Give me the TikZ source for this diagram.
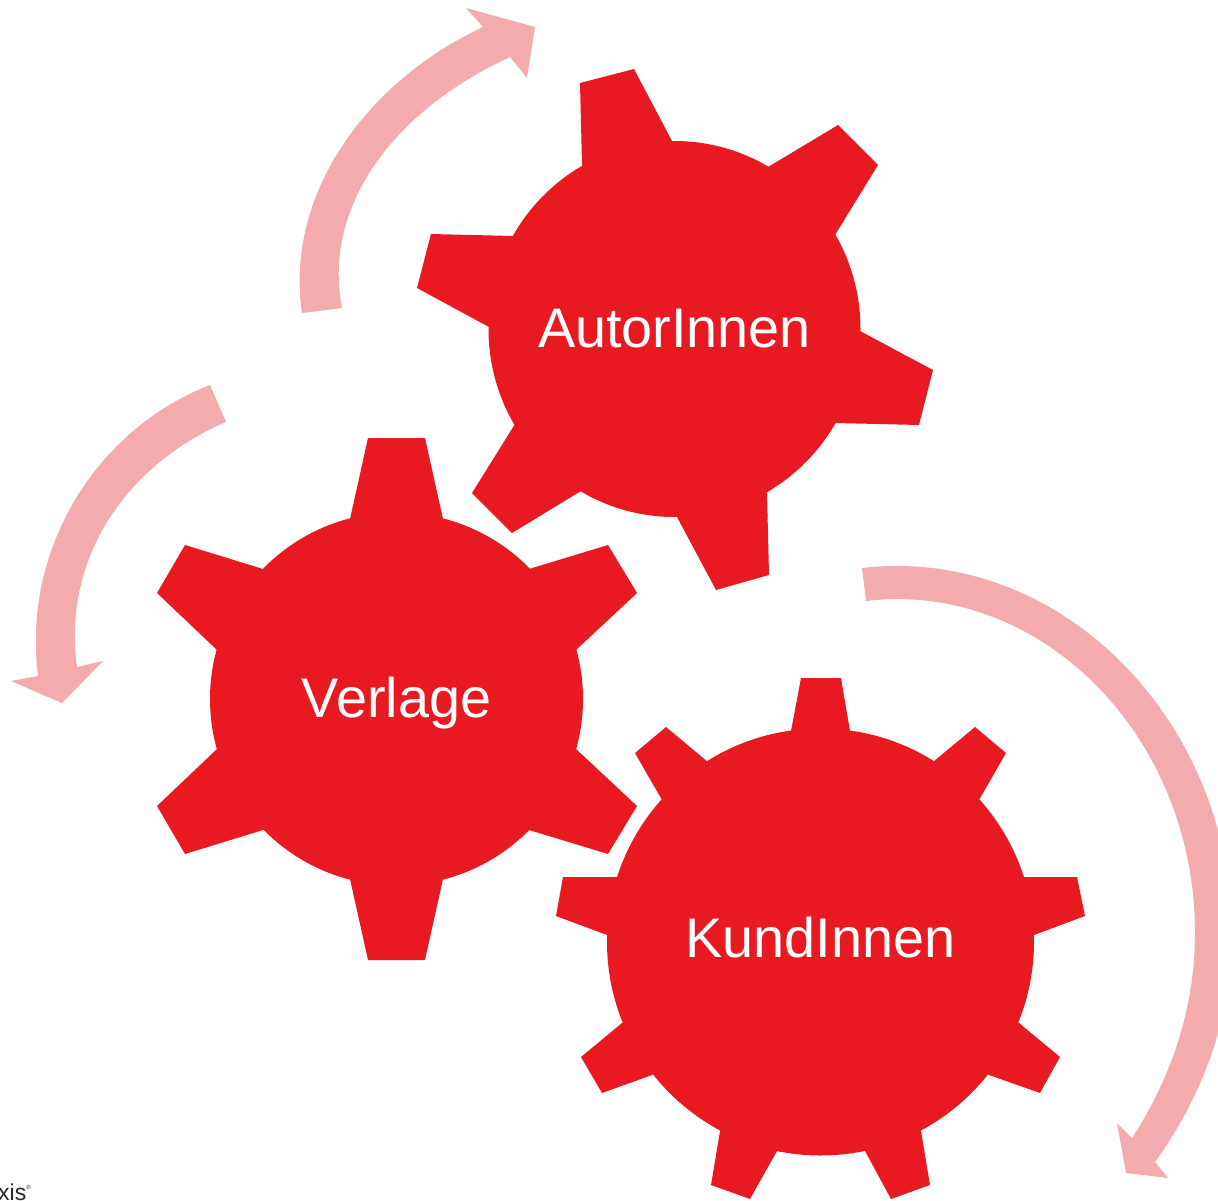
\documentclass[tikz,border=0pt]{standalone}
\usepackage{fontspec}
\setmainfont{Liberation Sans}
\definecolor{gearred}{HTML}{E91922}
\definecolor{arrowpink}{HTML}{F3ABAD}
\tikzset{
  gearbody/.style={fill=gearred,draw=none},
  flow/.style={fill=arrowpink,draw=none},
  gearlabel/.style={text=white,font=\fontsize{55.8}{60}\selectfont,inner sep=0pt,anchor=base},
  logotext/.style={text=black!85,font=\fontsize{23}{24}\selectfont,inner sep=0pt,anchor=base west}
}
\begin{document}
\begin{tikzpicture}[x=1pt,y=-1pt]
\useasboundingbox (0,0) rectangle (1218,1200);
\clip (0,0) rectangle (1218,1200);
% AutorInnen
\fill[gearbody] (674.5,329) ellipse[x radius=186,y radius=188];
\fill[gearbody] (582,165)--(580,83)--(634,69)--(672,141)--(674.5,329)--cycle;
\fill[gearbody] (768,167)--(838,125)--(878,165)--(835,235)--(674.5,329)--cycle;
\fill[gearbody] (860,331)--(933,370)--(919,425)--(836,423)--(674.5,329)--cycle;
\fill[gearbody] (767,493)--(769,575)--(716,590)--(677,517)--(674.5,329)--cycle;
\fill[gearbody] (581,491)--(512,533)--(472,493)--(515,424)--(674.5,329)--cycle;
\fill[gearbody] (489,327)--(417,288)--(431,234)--(513,236)--(674.5,329)--cycle;
% Verlage
\fill[gearbody] (396.5,699) circle[radius=186.5];
\fill[gearbody] (350,519)--(368,438)--(425,438)--(443,519)--(396.5,699)--cycle;
\fill[gearbody] (529,569)--(608,545)--(637,593)--(576,650)--(396.5,699)--cycle;
\fill[gearbody] (576,749)--(637,806)--(608,854)--(529,830)--(396.5,699)--cycle;
\fill[gearbody] (443,879)--(425,960)--(368,960)--(350,879)--(396.5,699)--cycle;
\fill[gearbody] (263,830)--(185,854)--(157,806)--(217,749)--(396.5,699)--cycle;
\fill[gearbody] (217,650)--(157,593)--(185,545)--(263,569)--(396.5,699)--cycle;
% KundInnen
\fill[gearbody] (820.5,942) circle[radius=213.5];
\fill[gearbody] (791,731)--(801,678)--(841,678)--(850,731)--(820.5,942)--cycle;
\fill[gearbody] (933,762)--(975,727)--(1006,753)--(979,800)--(820.5,942)--cycle;
\fill[gearbody] (1023,877)--(1077,877)--(1085,916)--(1034,935)--(820.5,942)--cycle;
\fill[gearbody] (1019,1023)--(1060,1057)--(1040,1093)--(989,1075)--(820.5,942)--cycle;
\fill[gearbody] (921,1131)--(930,1185)--(891,1199)--(865,1151)--(820.5,942)--cycle;
\fill[gearbody] (777,1151)--(750,1199)--(711,1185)--(720,1131)--(820.5,942)--cycle;
\fill[gearbody] (652,1075)--(602,1093)--(581,1057)--(622,1023)--(820.5,942)--cycle;
\fill[gearbody] (607,935)--(556,916)--(563,877)--(618,877)--(820.5,942)--cycle;
\fill[gearbody] (662,800)--(635,753)--(666,727)--(708,762)--(820.5,942)--cycle;
% Labels
\node[gearlabel] (autor) at (674.5,347) {AutorInnen};
\node[gearlabel] (verlage) at (396.5,717) {Verlage};
\node[gearlabel] (kund) at (820.5,957) {KundInnen};
% Arrows
\fill[flow] (302,313) .. controls (285,200) and (360,85) .. (483,27)
  -- (466,8) -- (535,27) -- (527,78) -- (510,57)
  .. controls (395,110) and (322,205) .. (342,308) -- cycle;
\fill[flow] (210,385) .. controls (95,430) and (22,550) .. (38,676)
  -- (11,681) -- (62,703) -- (103,661) -- (77,667)
  .. controls (62,560) and (125,465) .. (226,422) -- cycle;
\fill[flow] (862,568) .. controls (1060,545) and (1232,720) .. (1232,935)
  .. controls (1232,1020) and (1200,1100) .. (1155,1162)
  -- (1168,1178) -- (1126,1173) -- (1117,1123) -- (1132,1138)
  .. controls (1170,1080) and (1195,1010) .. (1195,933)
  .. controls (1195,735) and (1040,580) .. (866,601) -- cycle;
% Cropped logo text
\node[logotext] (logo) at (-2,1200.5) {xis\raisebox{11pt}{\fontsize{6}{6}\selectfont ®}};
\end{tikzpicture}
\end{document}
